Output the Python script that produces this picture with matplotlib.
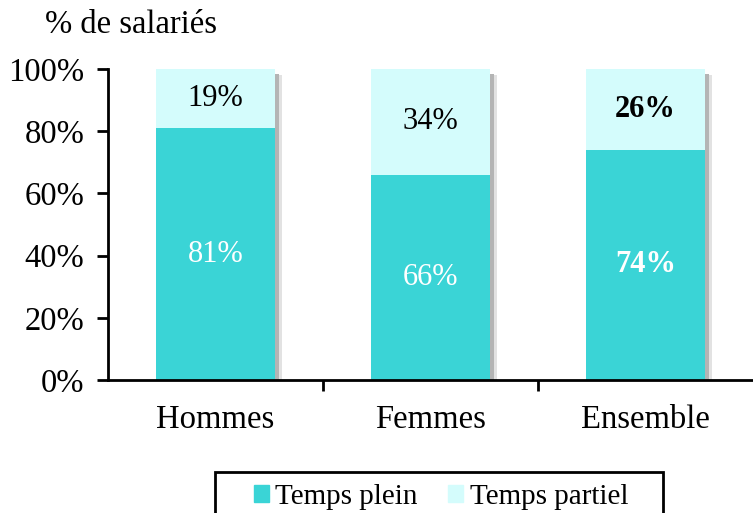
import numpy as np
from matplotlib import pyplot as plt
from matplotlib.patches import Rectangle, Patch

categories = ['Hommes', 'Femmes', 'Ensemble']
temps_plein = [81, 66, 74]
temps_partiel = [19, 34, 26]
yticks = [0, 20, 40, 60, 80, 100]

col_plein = '#3AD4D6'
col_partiel = '#D4FCFC'

plt.rcParams['font.family'] = ['Liberation Serif', 'DejaVu Serif']

fig = plt.figure(figsize=(7.53, 5.13), dpi=100)
ax = fig.add_axes([108 / 753, 1 - 380 / 513, 645 / 753, 311 / 513])

x = np.arange(len(categories))
w = 0.55
total = np.array(temps_plein) + np.array(temps_partiel)

# ombre portée (deux couches grises décalées à droite)
ax.bar(x + 0.035, total - 2, width=w, color='#e2e2e2', zorder=1)
ax.bar(x + 0.02, total - 1.5, width=w, color='#b4b4b4', zorder=1.2)

ax.bar(x, temps_plein, width=w, color=col_plein, zorder=2)
ax.bar(x, temps_partiel, width=w, bottom=temps_plein, color=col_partiel, zorder=2)

for i in range(len(categories)):
    bold = 'bold' if categories[i] == 'Ensemble' else 'normal'
    ax.text(x[i], temps_plein[i] / 2, f'{temps_plein[i]}%', ha='center', va='center',
            color='white', fontsize=22, fontweight=bold, zorder=3)
    ax.text(x[i], temps_plein[i] + temps_partiel[i] / 2, f'{temps_partiel[i]}%',
            ha='center', va='center', color='black', fontsize=22, fontweight=bold, zorder=3)

ax.set_xlim(-0.5, 2.5)
ax.set_ylim(0, 100)
ax.set_yticks(yticks)
ax.set_yticklabels([f'{t}%' for t in yticks], fontsize=23.5)
ax.set_xticks(x)
ax.set_xticklabels(categories, fontsize=23.5)
ax.tick_params(axis='x', length=0, pad=18)
ax.set_xticks([0.5, 1.5], minor=True)
ax.tick_params(axis='x', which='minor', length=8, width=2, direction='out')
ax.tick_params(axis='y', length=8, width=2, direction='out', pad=9)
for s in ['top', 'right']:
    ax.spines[s].set_visible(False)
for s in ['left', 'bottom']:
    ax.spines[s].set_linewidth(2)
    ax.spines[s].set_zorder(4)

fig.text(45 / 753, 1 - 25 / 513, '% de salariés', fontsize=23.5, va='center', ha='left')

handles = [Patch(color=col_plein, label='Temps plein'),
           Patch(color=col_partiel, label='Temps partiel')]
fig.legend(handles=handles, loc='center left', bbox_to_anchor=(254 / 753, 1 - 497 / 513),
           ncol=2, fontsize=21, frameon=False, borderaxespad=0, borderpad=0,
           handlelength=0.51, handleheight=0.51, handletextpad=0.22, columnspacing=1.05)
fig.patches.append(Rectangle((215 / 753, -0.05), (663 - 215) / 753, 0.05 + 1 - 472 / 513,
                             transform=fig.transFigure, fill=False, edgecolor='black', lw=2))

fig.savefig('out.png', dpi=100)
